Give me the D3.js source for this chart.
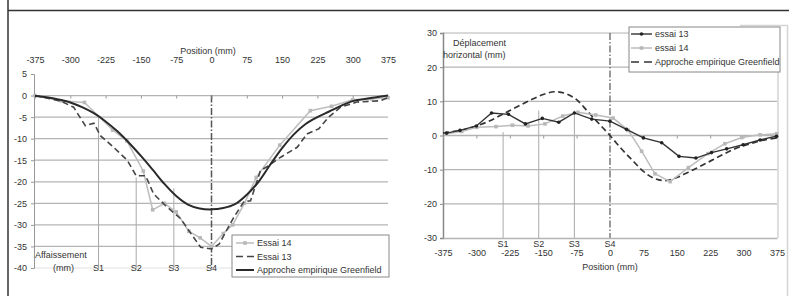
<!DOCTYPE html>
<html>
<head>
<meta charset="utf-8">
<script src="https://cdn.jsdelivr.net/npm/d3@7"></script>
<style>
  body { margin: 0; background: #fff; }
  svg text { font-family: "Liberation Sans", Arial, sans-serif; font-size: 9px; fill: #333; }
</style>
</head>
<body>
<div id="chart"></div>
<script>
// ---- data: left chart (settlement) ----
const ticksPos = [-375, -300, -225, -150, -75, 0, 75, 150, 225, 300, 375];
const ticksLeftY = [5, 0, -5, -10, -15, -20, -25, -30, -35, -40];
const ticksRightY = [30, 20, 10, 0, -10, -20, -30];
const sensorNames = ['S1', 'S2', 'S3', 'S4'];
const sensorPos = [-240, -160, -80, 0];

const e14LeftX = [-375, -320, -270, -210, -180, -145, -125, -100, -75, -48, -24, 0, 25, 45, 70, 95, 145, 210, 255, 300, 340, 375];
const e14LeftY = [0, -1.2, -1.6, -8, -10.5, -17.5, -26.5, -25, -27, -31.5, -33, -35, -32, -30, -25, -19, -11.5, -3.5, -2.5, -1, -0.8, -0.5];

const e13LeftX = [-375, -320, -293, -268, -250, -236, -208, -179, -160, -140, -123, -98, -66, -45, -23, 0, 16, 47, 69, 83, 104, 115, 147, 182, 203, 228, 249, 274, 309, 359, 375];
const e13LeftY = [0, -1.3, -2.7, -7, -6.4, -9.3, -12, -15, -18.6, -18.6, -22.8, -25.5, -28.5, -31.8, -35.2, -35.6, -34.5, -28.3, -24.6, -24.4, -17.4, -16.7, -14.3, -12, -8.9, -7.7, -5, -2.7, -1.5, -1.2, -0.5];

const gfLeftX = [-375, -350, -325, -300, -275, -250, -225, -200, -175, -150, -125, -100, -75, -50, -25, 0, 25, 50, 75, 100, 125, 150, 175, 200, 225, 250, 275, 300, 325, 350, 375];
const gfLeftY = [-0.1, -0.4, -0.9, -1.6, -2.7, -4.1, -6, -8.3, -11, -14, -17.2, -20.5, -23.3, -25.3, -26.2, -26.4, -26.1, -25.2, -23, -20, -16, -12.2, -9, -6.6, -5, -3.7, -2.4, -1.3, -0.8, -0.4, 0];

// ---- data: right chart (horizontal displacement) ----
const e13RightX = [-367, -337, -300, -266, -228, -190, -152, -115, -80, -41, 0, 37, 75, 116, 155, 193, 228, 262, 299, 337, 374];
const e13RightY = [0.7, 1.5, 2.8, 6.6, 6.2, 3.4, 5, 3.9, 6.6, 4.8, 4.2, 1.8, -0.7, -2.1, -6.1, -6.6, -5, -3.9, -2.7, -1.3, -0.2];

const e14RightX = [-367, -333, -299, -256, -219, -184, -146, -106, -72, -32, 7, 41, 71, 101, 135, 176, 220, 258, 296, 337, 374];
const e14RightY = [0.5, 1.2, 2.4, 2.6, 3, 2.8, 3.4, 5.7, 6.8, 6, 5.1, 1.5, -4.6, -11.2, -13.5, -9.4, -5.3, -2.4, -0.6, 0.2, 0.5];

const gfRightX = [-375, -350, -325, -300, -275, -250, -225, -200, -175, -150, -125, -100, -75, -50, -25, 0, 25, 50, 75, 100, 125, 150, 175, 200, 225, 250, 275, 300, 325, 350, 375];
const gfRightY = [0.7, 1.2, 1.8, 2.8, 4, 5.6, 7.3, 9, 10.6, 12, 12.8, 12.3, 10.5, 7, 3.5, 0, -3.8, -7.2, -10.5, -12.6, -13.2, -12.3, -10.8, -9.2, -7.5, -5.8, -4.2, -3, -2, -1.2, -0.7];

const zip = (xs, ys) => xs.map((x, i) => [x, ys[i]]);
const fmt = d => String(d);

const svg = d3.select('#chart').append('svg')
    .attr('width', 789)
    .attr('height', 296);

// outer frame
svg.append('line').attr('x1', 8).attr('x2', 8).attr('y1', 0).attr('y2', 296)
    .attr('stroke', '#333').attr('stroke-width', 1.5);
svg.append('line').attr('x1', 8).attr('x2', 789).attr('y1', 10.5).attr('y2', 10.5)
    .attr('stroke', '#333').attr('stroke-width', 1.5);
svg.append('path').attr('d', 'M740,25.5H787.5V296')
    .attr('fill', 'none').attr('stroke', '#d4d4d4').attr('stroke-width', 1.5);

// =================== LEFT CHART ===================
const xL = d3.scaleLinear().domain([-375, 375]).range([35, 388]);
const yL = d3.scaleLinear().domain([-40, 5]).range([268, 74]);
const gL = svg.append('g');

// gridlines
gL.selectAll('.gridL')
    .data(ticksLeftY.filter(v => v <= 0 && v > -40))
    .enter().append('line')
    .attr('x1', xL(-375)).attr('x2', xL(375))
    .attr('y1', d => yL(d)).attr('y2', d => yL(d))
    .attr('stroke', '#b4b4b4').attr('stroke-width', 1.3);
gL.append('line')
    .attr('x1', xL(-375)).attr('x2', xL(375))
    .attr('y1', yL(-40)).attr('y2', yL(-40))
    .attr('stroke', '#e0e0e0').attr('stroke-width', 1);

// sensor lines
const sTopL = [-5, -19, -21.5];
gL.selectAll('.sL')
    .data(sensorPos.slice(0, 3))
    .enter().append('line')
    .attr('x1', d => xL(d)).attr('x2', d => xL(d))
    .attr('y1', (d, i) => yL(sTopL[i])).attr('y2', yL(-40))
    .attr('stroke', '#aaa').attr('stroke-width', 1);
gL.append('line')
    .attr('x1', xL(0)).attr('x2', xL(0))
    .attr('y1', yL(0)).attr('y2', yL(-40))
    .attr('stroke', '#555').attr('stroke-width', 1.5)
    .attr('stroke-dasharray', '7,2,1.5,2');

// y axis
const yAxisL = d3.axisLeft(yL).tickValues(ticksLeftY).tickSize(3).tickPadding(4).tickFormat(fmt);
gL.append('g').attr('transform', 'translate(34,0)').call(yAxisL)
    .call(g => g.select('.domain').attr('stroke', '#999'))
    .call(g => g.selectAll('.tick line').attr('stroke', '#999'))
    .call(g => g.selectAll('.tick text').attr('fill', '#333'));

// ticks on the zero line
gL.append('g').attr('transform', `translate(0,${yL(0)})`)
    .call(d3.axisBottom(xL).tickValues(ticksPos).tickSize(3).tickFormat(''))
    .call(g => g.select('.domain').remove())
    .call(g => g.selectAll('.tick line').attr('stroke', '#999'));

// labels at top
gL.append('g').attr('transform', 'translate(0,66)')
    .call(d3.axisTop(xL).tickValues(ticksPos).tickSize(0).tickPadding(3).tickFormat(fmt))
    .call(g => g.select('.domain').remove())
    .call(g => g.selectAll('.tick text').attr('fill', '#333'));
gL.append('text').attr('x', 208).attr('y', 54).attr('text-anchor', 'middle').text('Position (mm)');

// lines
const lineL = d3.line().x(d => xL(d[0])).y(d => yL(d[1]));
gL.append('path').datum(zip(e14LeftX, e14LeftY))
    .attr('d', lineL).attr('fill', 'none').attr('stroke', '#bdbdbd').attr('stroke-width', 1.5);
gL.selectAll('.m14L').data(zip(e14LeftX, e14LeftY)).enter().append('rect')
    .attr('x', d => xL(d[0]) - 1.8).attr('y', d => yL(d[1]) - 1.8)
    .attr('width', 3.6).attr('height', 3.6).attr('fill', '#b8b8b8');
gL.append('path').datum(zip(e13LeftX, e13LeftY))
    .attr('d', lineL).attr('fill', 'none').attr('stroke', '#444').attr('stroke-width', 1.6)
    .attr('stroke-dasharray', '6,3.5');
const curveL = d3.line().x(d => xL(d[0])).y(d => yL(d[1])).curve(d3.curveCatmullRom);
gL.append('path').datum(zip(gfLeftX, gfLeftY))
    .attr('d', curveL).attr('fill', 'none')
    .attr('stroke', '#2a2a2a').attr('stroke-width', 2);

// labels
gL.append('text').attr('x', 35).attr('y', 258).text('Affaissement');
gL.append('text').attr('x', 53).attr('y', 271).text('(mm)');
gL.selectAll('.sLab').data(sensorNames).enter().append('text')
    .attr('x', (d, i) => xL(sensorPos[i])).attr('y', 271)
    .attr('text-anchor', 'middle').text(d => d);

// legend
const legL = gL.append('g').attr('transform', 'translate(232,235)');
legL.append('rect').attr('width', 157).attr('height', 42)
    .attr('fill', '#fff').attr('stroke', '#888').attr('stroke-width', 1);
const legLItems = ['Essai 14', 'Essai 13', 'Approche empirique Greenfield'];
legLItems.forEach((t, i) => {
    const yy = 8 + i * 13.5;
    const ln = legL.append('line').attr('x1', 4).attr('x2', 22).attr('y1', yy).attr('y2', yy);
    if (i === 0) {
        ln.attr('stroke', '#bdbdbd').attr('stroke-width', 1.5);
        legL.append('rect').attr('x', 11.2).attr('y', yy - 1.8).attr('width', 3.6).attr('height', 3.6).attr('fill', '#b8b8b8');
    } else if (i === 1) {
        ln.attr('stroke', '#444').attr('stroke-width', 1.6).attr('stroke-dasharray', '7,4');
    } else {
        ln.attr('stroke', '#2a2a2a').attr('stroke-width', 2);
    }
    legL.append('text').attr('x', 25).attr('y', yy + 3.2).text(t);
});

// =================== RIGHT CHART ===================
const xR = d3.scaleLinear().domain([-375, 375]).range([443, 777]);
const yR = d3.scaleLinear().domain([-30, 30]).range([238, 33]);
const gR = svg.append('g');

gR.selectAll('.gridR')
    .data(ticksRightY.filter(v => v > -30))
    .enter().append('line')
    .attr('x1', xR(-375)).attr('x2', xR(375))
    .attr('y1', d => yR(d)).attr('y2', d => yR(d))
    .attr('stroke', d => d === 30 ? '#ccc' : '#b4b4b4').attr('stroke-width', 1.3);
gR.append('line').attr('x1', xR(375) + 1).attr('x2', xR(375) + 1)
    .attr('y1', yR(30)).attr('y2', yR(-30))
    .attr('stroke', '#ccc').attr('stroke-width', 1.3);

// sensor lines
const sTopR = [1, 7.3, 7.3];
gR.selectAll('.sR')
    .data(sensorPos.slice(0, 3))
    .enter().append('line')
    .attr('x1', d => xR(d)).attr('x2', d => xR(d))
    .attr('y1', (d, i) => yR(sTopR[i])).attr('y2', yR(-30))
    .attr('stroke', '#aaa').attr('stroke-width', 1);
gR.append('line')
    .attr('x1', xR(0)).attr('x2', xR(0))
    .attr('y1', yR(30)).attr('y2', yR(-30))
    .attr('stroke', '#666').attr('stroke-width', 1.3)
    .attr('stroke-dasharray', '7,2,1.5,2');

// y axis
gR.append('g').attr('transform', 'translate(443,0)')
    .call(d3.axisLeft(yR).tickValues(ticksRightY).tickSize(3).tickPadding(3).tickFormat(fmt))
    .call(g => g.select('.domain').attr('stroke', '#888').attr('stroke-width', 1.5))
    .call(g => g.selectAll('.tick line').attr('stroke', '#888'))
    .call(g => g.selectAll('.tick text').attr('fill', '#333'));

// ticks on the zero line
gR.append('g').attr('transform', `translate(0,${yR(0)})`)
    .call(d3.axisBottom(xR).tickValues(ticksPos).tickSize(3).tickFormat(''))
    .call(g => g.select('.domain').remove())
    .call(g => g.selectAll('.tick line').attr('stroke', '#999'));

// bottom axis labels
gR.append('g').attr('transform', `translate(0,${yR(-30)})`)
    .call(d3.axisBottom(xR).tickValues(ticksPos).tickSize(0).tickPadding(12).tickFormat(fmt))
    .call(g => g.select('.domain').attr('stroke', '#b4b4b4').attr('stroke-width', 1.3))
    .call(g => g.selectAll('.tick text').attr('fill', '#333'));
gR.append('text').attr('x', 610).attr('y', 270).attr('text-anchor', 'middle').text('Position (mm)');
gR.selectAll('.sLabR').data(sensorNames).enter().append('text')
    .attr('x', (d, i) => xR(sensorPos[i])).attr('y', 247)
    .attr('text-anchor', 'middle').text(d => d);

gR.append('text').attr('x', 453).attr('y', 46).text('Déplacement');
gR.append('text').attr('x', 443).attr('y', 58).text('horizontal (mm)');

// lines
const curveR = d3.line().x(d => xR(d[0])).y(d => yR(d[1])).curve(d3.curveCatmullRom);
gR.append('path').datum(zip(gfRightX, gfRightY))
    .attr('d', curveR).attr('fill', 'none')
    .attr('stroke', '#333').attr('stroke-width', 1.7).attr('stroke-dasharray', '6,3.5');
const lineR = d3.line().x(d => xR(d[0])).y(d => yR(d[1]));
gR.append('path').datum(zip(e14RightX, e14RightY))
    .attr('d', lineR).attr('fill', 'none').attr('stroke', '#bdbdbd').attr('stroke-width', 1.5);
gR.selectAll('.m14R').data(zip(e14RightX, e14RightY)).enter().append('rect')
    .attr('x', d => xR(d[0]) - 1.8).attr('y', d => yR(d[1]) - 1.8)
    .attr('width', 3.6).attr('height', 3.6).attr('fill', '#b8b8b8');
gR.append('path').datum(zip(e13RightX, e13RightY))
    .attr('d', lineR).attr('fill', 'none').attr('stroke', '#333').attr('stroke-width', 1.4);
gR.selectAll('.m13R').data(zip(e13RightX, e13RightY)).enter().append('circle')
    .attr('cx', d => xR(d[0])).attr('cy', d => yR(d[1]))
    .attr('r', 1.8).attr('fill', '#222');

// legend
const legR = gR.append('g').attr('transform', 'translate(629,27)');
legR.append('rect').attr('width', 151).attr('height', 45)
    .attr('fill', '#fff').attr('stroke', '#888').attr('stroke-width', 1);
const legRItems = ['essai 13', 'essai 14', 'Approche empirique Greenfield'];
legRItems.forEach((t, i) => {
    const yy = 7 + i * 14;
    const ln = legR.append('line').attr('x1', 2).attr('x2', 23).attr('y1', yy).attr('y2', yy);
    if (i === 0) {
        ln.attr('stroke', '#333').attr('stroke-width', 1.4);
        legR.append('circle').attr('cx', 12.5).attr('cy', yy).attr('r', 1.8).attr('fill', '#222');
    } else if (i === 1) {
        ln.attr('stroke', '#bdbdbd').attr('stroke-width', 1.5);
        legR.append('rect').attr('x', 10.7).attr('y', yy - 1.8).attr('width', 3.6).attr('height', 3.6).attr('fill', '#b8b8b8');
    } else {
        ln.attr('stroke', '#333').attr('stroke-width', 1.7).attr('stroke-dasharray', '8,5');
    }
    legR.append('text').attr('x', 26).attr('y', yy + 3.2).text(t);
});
</script>
</body>
</html>
